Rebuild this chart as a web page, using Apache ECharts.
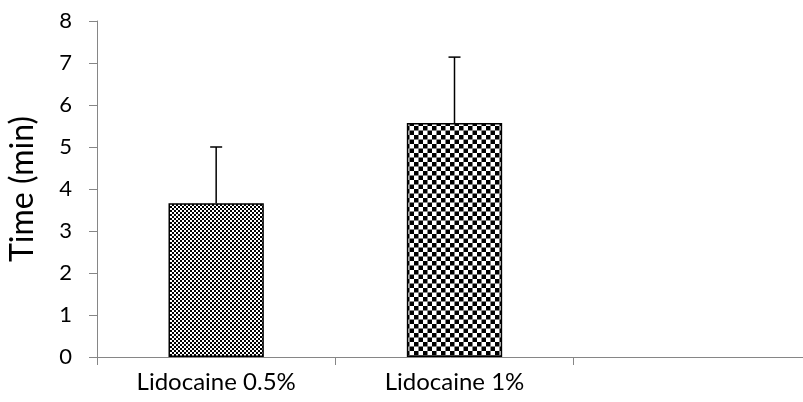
<!DOCTYPE html>
<html><head><meta charset="utf-8">
<script src="https://cdn.jsdelivr.net/npm/echarts@6/dist/echarts.min.js"></script>
<style>html,body{margin:0;padding:0;background:#fff}#c{width:803px;height:402px}</style>
</head><body><div id="c"></div>
<script>
const categories = ['Lidocaine 0.5%', 'Lidocaine 1%', ''];
const meanValues = [3.66, 5.57, null];
const errorValues = [1.34, 1.57, null];
const yTicks = [0, 1, 2, 3, 4, 5, 6, 7, 8];

function checker(cell) {
  const c = document.createElement('canvas');
  c.width = Math.round(cell * 2); c.height = Math.round(cell * 2);
  const g = c.getContext('2d');
  g.fillStyle = '#fff'; g.fillRect(0, 0, c.width, c.height);
  g.fillStyle = '#000';
  g.fillRect(0, 0, cell, cell);
  g.fillRect(cell, cell, cell, cell);
  return c;
}
const patFine = checker(2);
const patCoarse = checker(4.5);
const patterns = [patFine, patCoarse];

const chart = echarts.init(document.getElementById('c'), null, {renderer: 'canvas'});
const font = 'Lato';
chart.setOption({
  animation: false,
  grid: {left: 97, right: -9, top: 21, bottom: 45, containLabel: false, outerBoundsMode: 'none'},
  xAxis: {
    type: 'category', data: categories,
    axisLine: {lineStyle: {color: '#868686', width: 1}},
    axisTick: {show: true, length: 8, alignWithLabel: false, lineStyle: {color: '#868686'}},
    axisLabel: {color: '#000', fontFamily: font, fontSize: 24, margin: 13}
  },
  yAxis: {
    type: 'value', min: yTicks[0], max: yTicks[yTicks.length - 1], interval: 1,
    name: 'Time (min)', nameLocation: 'middle', nameGap: 58,
    nameTextStyle: {color: '#000', fontFamily: font, fontSize: 32},
    axisLine: {show: true, lineStyle: {color: '#868686', width: 1}},
    axisTick: {show: true, length: 8, lineStyle: {color: '#868686'}},
    splitLine: {show: false},
    axisLabel: {color: '#000', fontFamily: font, fontSize: 22, margin: 25}
  },
  series: [
    {
      type: 'bar', barWidth: '40%',
      data: meanValues.map((v, i) => v == null ? null : ({
        value: v,
        itemStyle: {color: {image: patterns[i], repeat: 'repeat'}, borderColor: '#000', borderWidth: 1.5}
      }))
    },
    {
      type: 'custom', z: 5,
      data: meanValues.map((v, i) => v == null ? null : [i, v, errorValues[i]]).filter(d => d),
      renderItem: function (params, api) {
        const x = api.value(0), v = api.value(1), e = api.value(2);
        const p0 = api.coord([x, v]);
        const p1 = api.coord([x, v + e]);
        const hw = 6;
        return {type: 'group', children: [
          {type: 'line', shape: {x1: p0[0], y1: p0[1], x2: p1[0], y2: p1[1]}, style: {stroke: '#000', lineWidth: 1.5}},
          {type: 'line', shape: {x1: p1[0] - hw, y1: p1[1], x2: p1[0] + hw, y2: p1[1]}, style: {stroke: '#000', lineWidth: 1.5}}
        ]};
      }
    }
  ]
});
</script></body></html>
